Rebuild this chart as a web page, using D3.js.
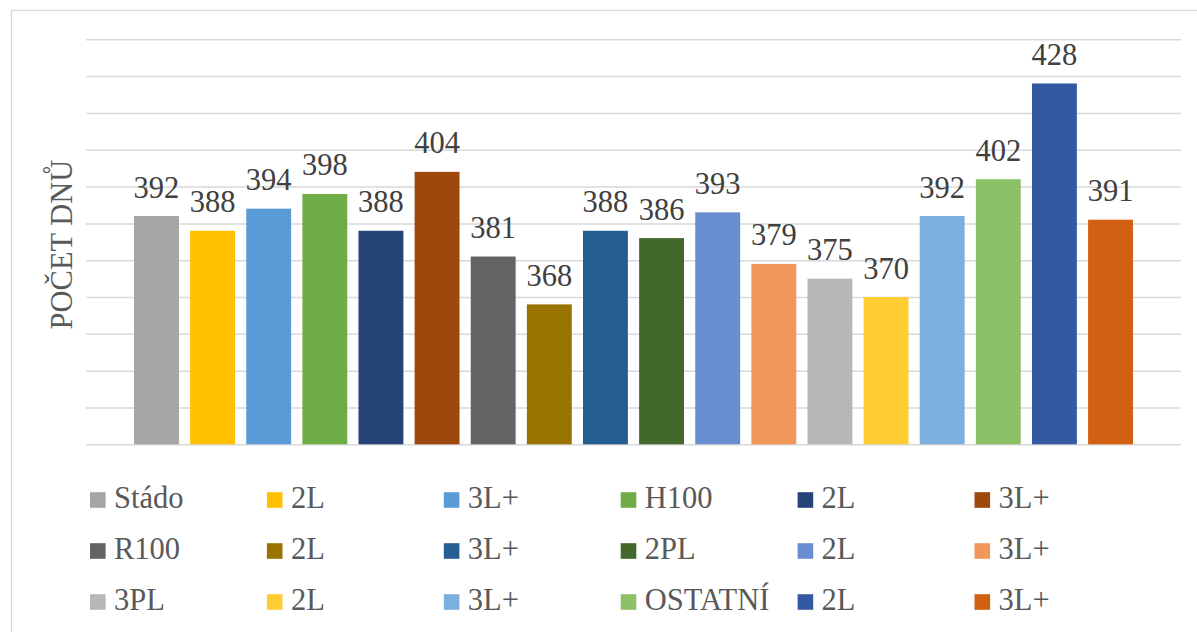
<!DOCTYPE html>
<html>
<head>
<meta charset="utf-8">
<script src="https://cdn.jsdelivr.net/npm/d3@7"></script>
<style>
  html, body { margin: 0; padding: 0; background: #ffffff; }
  svg { display: block; }
</style>
</head>
<body>
<svg id="chart" width="1197" height="632"></svg>
<script>
// Series (one bar each), in drawing order
const seriesNames = ["Stádo", "2L", "3L+", "H100", "2L", "3L+",
                     "R100", "2L", "3L+", "2PL", "2L", "3L+",
                     "3PL", "2L", "3L+", "OSTATNÍ", "2L", "3L+"];
const seriesValues = [392, 388, 394, 398, 388, 404,
                      381, 368, 388, 386, 393, 379,
                      375, 370, 392, 402, 428, 391];
const seriesColors = ["#a5a5a5", "#ffc000", "#5b9bd5", "#70ad47", "#264478", "#9e480e",
                      "#636363", "#997300", "#255e91", "#43682b", "#698ed0", "#f1975a",
                      "#b7b7b7", "#ffcd33", "#7cafdd", "#8cc168", "#335aa1", "#d26012"];
const gridTicks = [330, 340, 350, 360, 370, 380, 390, 400, 410, 420, 430, 440];
const axisTitle = "POČET DNŮ";

const FONT = "'Liberation Serif'";
const svg = d3.select("#chart");

// Chart area frame
svg.append("rect")
  .attr("x", 11.5).attr("y", 10.5)
  .attr("width", 1200).attr("height", 640)
  .attr("fill", "#ffffff")
  .attr("stroke", "#d9d9d9")
  .attr("stroke-width", 1.3);

const plotLeft = 86, plotRight = 1181;
const y = d3.scaleLinear().domain([330, 440]).range([444.3, 39.3]);
const x = d3.scaleBand()
  .domain(d3.range(seriesNames.length))
  .range([134, 1133])
  .paddingInner(0.2)
  .paddingOuter(0);

// Horizontal gridlines
const yAxis = d3.axisLeft(y)
  .tickValues(gridTicks)
  .tickSize(-(plotRight - plotLeft))
  .tickFormat("");
const gAxis = svg.append("g")
  .attr("transform", `translate(${plotLeft},0)`)
  .call(yAxis);
gAxis.select(".domain").remove();
gAxis.selectAll(".tick line")
  .attr("stroke", "#d9d9d9")
  .attr("stroke-width", 1.5);

// Bars
svg.append("g").selectAll("rect")
  .data(seriesValues)
  .join("rect")
  .attr("x", (d, i) => x(i))
  .attr("y", d => y(d))
  .attr("width", x.bandwidth())
  .attr("height", d => y(330) - y(d))
  .attr("fill", (d, i) => seriesColors[i]);

// Value labels
svg.append("g").selectAll("text")
  .data(seriesValues)
  .join("text")
  .style("font-family", FONT)
  .attr("x", (d, i) => x(i) + x.bandwidth() / 2)
  .attr("y", d => y(d) - 18.5)
  .attr("text-anchor", "middle")
  .attr("font-size", 30.5)
  .attr("fill", "#404040")
  .text(d => d);

// Axis title
svg.append("text")
  .style("font-family", FONT)
  .attr("transform", `translate(72,244.5) rotate(-90)`)
  .attr("text-anchor", "middle")
  .attr("font-size", 30.5)
  .attr("fill", "#595959")
  .text(axisTitle);

// Legend: 6 columns x 3 rows
const legendCols = 6;
const colX = d3.scaleLinear().domain([0, 1]).range([90, 266.9]);
const rowY = d3.scaleLinear().domain([0, 1]).range([500, 551]);
const legend = svg.append("g").selectAll("g")
  .data(seriesNames)
  .join("g")
  .attr("transform", (d, i) =>
    `translate(${colX(i % legendCols)},${rowY(Math.floor(i / legendCols))})`);
legend.append("rect")
  .attr("x", 0).attr("y", -7.8)
  .attr("width", 15.6).attr("height", 15.6)
  .attr("fill", (d, i) => seriesColors[i]);
legend.append("text")
  .style("font-family", FONT)
  .attr("x", 24)
  .attr("y", 8.3)
  .attr("font-size", 30.5)
  .attr("fill", "#595959")
  .text(d => d);
</script>
</body>
</html>
